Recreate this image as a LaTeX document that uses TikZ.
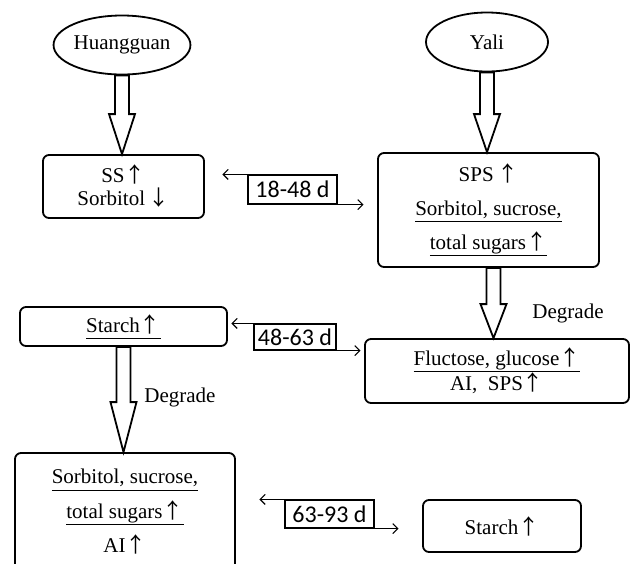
\documentclass[tikz,border=0pt]{standalone}
\usepackage{fontspec}
\setmainfont{Liberation Serif}
\newfontfamily\labfont{Carlito}
\newfontfamily\cjkfont{Noto Sans CJK SC}
\usetikzlibrary{shapes.geometric,arrows.meta,calc}
\newcommand\ulx[1]{\underline{#1\vphantom{g}}}
\newcommand\upar{{\cjkfont ↑}}
\newcommand\dnar{{\cjkfont ↓}}
\newcommand\hollowarrow[3]{%
  \path let \p1=(#1), \p2=(#2) in [hollow]
    ({\x1-7pt},{\y1}) -- ({\x1-7pt},{\y2+#3}) -- ({\x1-13pt},{\y2+#3}) --
    ({\x1},{\y2}) -- ({\x1+13pt},{\y2+#3}) -- ({\x1+7pt},{\y2+#3}) --
    ({\x1+7pt},{\y1}) -- cycle;}
\begin{document}
\begin{tikzpicture}[x=1pt,y=-1pt,
  box/.style={draw, line width=1.8pt, rounded corners=6pt, inner sep=0pt, align=center},
  oval/.style={draw, ellipse, line width=1.8pt, inner sep=0pt, minimum width=122pt,
    minimum height=59pt, font=\fontsize{21}{24}\selectfont},
  daybox/.style={draw, line width=1.1pt, inner sep=0pt, font=\labfont\fontsize{24}{26}\selectfont},
  conn/.style={line width=1.1pt, -{Straight Barb[length=5pt,width=10pt]}},
  hollow/.style={draw, line width=1.8pt, fill=white, line join=miter},
  txt/.style={font=\fontsize{21}{24}\selectfont, inner sep=0pt}
]
\path[use as bounding box, clip] (0,0) rectangle (631,563);

% ovals
\node[oval] (hg) at (122,45) {Huangguan};
\node[oval] (yl) at (487,42) {Yali};

% boxes
\node[box, minimum width=161pt, minimum height=63pt, font=\fontsize{21}{23}\selectfont]
  (ss) at (123.5,186.5) {SS\upar\\Sorbitol\,\dnar};
\node[box, minimum width=221pt, minimum height=114pt, font=\fontsize{21}{34}\selectfont]
  (sps) at (488.5,210) {SPS\,\upar\\\ulx{Sorbitol, sucrose,}\\\ulx{total sugars\upar}};
\node[box, minimum width=207pt, minimum height=39pt, font=\fontsize{21}{24}\selectfont]
  (st1) at (123.5,326.5) {\ulx{Starch\upar}};
\node[box, minimum width=264pt, minimum height=64pt, font=\fontsize{21}{25}\selectfont]
  (fl) at (497,371) {\ulx{Fluctose, glucose\upar}\\AI,\enspace SPS\upar};
\node[box, minimum width=220pt, minimum height=118pt, font=\fontsize{21}{34.5}\selectfont]
  (bl) at (125,512) {\ulx{Sorbitol, sucrose,}\\\ulx{total sugars\upar}\\AI\upar};
\node[box, minimum width=158pt, minimum height=52pt, font=\fontsize{21}{24}\selectfont]
  (st2) at (502,526) {Starch\upar};

% hollow arrows
\hollowarrow{hg.south}{ss.north}{40pt}
\hollowarrow{yl.south}{sps.north}{38pt}
\hollowarrow{$(sps.south)+(5,0)$}{fl.north}{34pt}
\hollowarrow{st1.south}{bl.north}{50pt}

\node[txt] (dg1) at (568,313) {Degrade};
\node[txt] (dg2) at (180,397) {Degrade};

% day labels with connectors
\node[daybox, minimum width=89pt, minimum height=29pt] (d1) at (292.5,189.5) {18-48 d};
\draw[conn] (d1.north west) -- ++(-25,0);
\draw[conn] (d1.south east) -- ++(26,0);

\node[daybox, minimum width=82pt, minimum height=26pt] (d2) at (295,337) {48-63 d};
\draw[conn] (d2.north west) -- ++(-22,0);
\draw[conn] (d2.south east) -- ++(24,0);

\node[daybox, minimum width=89pt, minimum height=28pt] (d3) at (329.5,514) {63-93 d};
\draw[conn] (d3.north west) -- ++(-25,0);
\draw[conn] (d3.south east) -- ++(24,0);
\end{tikzpicture}
\end{document}
